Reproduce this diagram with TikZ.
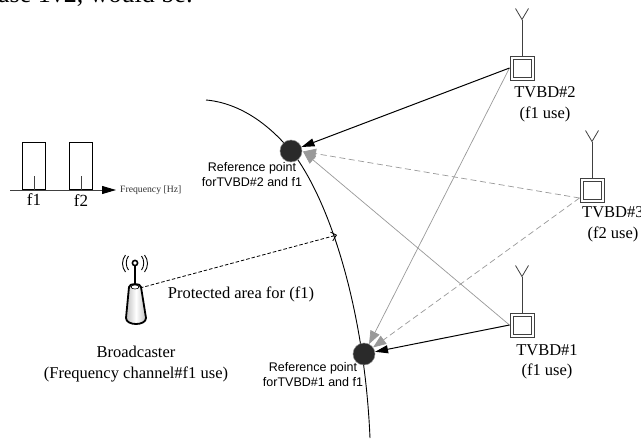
\documentclass[tikz,border=0pt]{standalone}
\usepackage{fontspec}
\setmainfont{Liberation Serif}
\newfontfamily\gothic{Liberation Sans}
\usetikzlibrary{arrows.meta}
\definecolor{dotc}{HTML}{2A2A2A}
\definecolor{gr}{HTML}{999999}
\tikzset{
  lbl/.style={inner sep=0pt,font=\fontsize{16.5}{18}\selectfont,anchor=base},
  reflbl/.style={inner sep=0pt,font=\gothic\fontsize{12.5}{15.5}\selectfont,align=center,anchor=north},
  dev/.style={draw=black!75,line width=1pt,fill=white,minimum size=24pt,inner sep=0pt,
    path picture={\draw[black!75,line width=1pt] ([xshift=3pt,yshift=3pt]path picture bounding box.south west) rectangle ([xshift=-3pt,yshift=-3pt]path picture bounding box.north east);}},
  ant/.style={draw=black!75,line width=1pt},
  refdot/.style={circle,fill=dotc,draw=black!45,line width=.5pt,minimum size=22pt,inner sep=0pt},
  blk/.style={draw=black,line width=1pt,-{Triangle[length=13pt,width=8pt]}},
  gsolid/.style={draw=gr,line width=.7pt,-{Triangle[length=13pt,width=10pt,color=gr]}},
  gdash/.style={gsolid,dash pattern=on 6pt off 3.5pt},
  spec/.style={draw=black,line width=.9pt,fill=white,minimum width=23pt,minimum height=47pt,inner sep=0pt,anchor=south},
}
\begin{document}
\begin{tikzpicture}[x=1pt,y=-1pt]
\useasboundingbox (0,0) rectangle (641,439);
\fill[white] (0,0) rectangle (641,439);
\begin{scope}
\clip (0,0) rectangle (641,439);
\node[inner sep=0pt,anchor=base west,font=\fontsize{26}{28}\selectfont] (top) at (-2,2) {ase 1v2, would be:};
\node[lbl,anchor=base west] (t3) at (582,217) {TVBD\#3};
\end{scope}
% spectrum
\coordinate (axl) at (10,190);
\coordinate (axr) at (116,190);
\node[spec] (r1) at (34,190) {};
\node[spec] (r2) at (81,190) {};
\draw[black!75,line width=.9pt] (r1.south) -- ++(0,-14);
\draw[black!75,line width=.9pt] (r2.south) -- ++(0,-14);
\draw[draw=black!75,line width=.9pt,-{Triangle[length=14pt,width=8pt,color=black]}] (axl) -- (axr);
\node[lbl,font=\fontsize{17}{18}\selectfont] (f1) at (34,205) {f1};
\node[lbl,font=\fontsize{17}{18}\selectfont] (f2) at (81,206) {f2};
\node[inner sep=0pt,anchor=west,font=\fontsize{9.7}{11}\selectfont,text=black!80] (fq) at (120,190) {Frequency [Hz]};
% boundary curve
\draw[black,line width=.9pt] (206,100) .. controls (240,103) and (272,125) .. (298,160) .. controls (335,215) and (365,320) .. (370,438);
% devices
\node[dev] (b2) at (522,68) {};
\node[dev] (b3) at (592,190) {};
\node[dev] (b1) at (522,325) {};
\foreach \b/\n in {b2/a2,b3/a3,b1/a1}{
  \coordinate (\n) at ([yshift=36pt]\b.north);
  \draw[ant] (\b.north) -- (\n);
  \draw[ant,line width=.8pt] ([shift={(-6.5pt,11pt)}]\n) -- (\n) -- ([shift={(6.5pt,11pt)}]\n);
}
% reference points
\coordinate (Ag) at (303,151.5);
\node[refdot] (A) at (291,151) {};
\node[refdot] (B) at (364,354) {};
\draw[gdash] (b3.west |- 0,198) coordinate (s3) -- (Ag);
\draw[gsolid] (b1.west) -- (Ag);
\draw[gsolid] (b2.west) -- (B);
\draw[gdash] (s3) -- (B);
\draw[blk] (b2.west) -- (A);
\draw[blk] (b1.west) -- (B);
% labels
\node[reflbl] (la) at (252,162) {Reference point\\forTVBD\#2 and f1};
\node[reflbl] (lb) at (313,362) {Reference point\\forTVBD\#1 and f1};
\node[lbl] (t2) at (545,97) {TVBD\#2};
\node[lbl] (u2) at (545,118) {(f1 use)};
\node[lbl] (u3) at (613,238) {(f2 use)};
\node[lbl] (t1) at (547,355) {TVBD\#1};
\node[lbl] (u1) at (547,375) {(f1 use)};
\node[lbl] (pa) at (241,298) {Protected area for (f1)};
\node[lbl] (br) at (136,357) {Broadcaster};
\node[lbl] (fc) at (136,378) {(Frequency channel\#f1 use)};
% tower
\coordinate (tw) at (135,287);
\coordinate (tip) at (135,263);
\coordinate (pt) at (337,235);
\draw[line width=1.8pt,join=round,left color=black!25,right color=black!25,middle color=white]
  (129,287) -- (126,318) .. controls (126,326) and (146,326) .. (146,318) -- (141,287) .. controls (141,283) and (129,283) .. (129,287) -- cycle;
\draw[line width=.6pt,fill=white] (tw) ellipse (4pt and 2pt);
\draw[line width=1.8pt] (135,284) -- (tip);
\draw[line width=1.6pt,fill=white] (tip) circle (2.6pt);
\foreach \s in {1,-1}{
  \draw[line width=.9pt] (135+\s*6.5,256) .. controls (135+\s*9.5,260) and (135+\s*9.5,266) .. (135+\s*6.5,270);
  \draw[line width=.9pt] (135+\s*9.5,255) .. controls (135+\s*13.5,260) and (135+\s*13.5,267) .. (135+\s*9.5,272);
}
\draw[black,line width=.8pt,dash pattern=on 3.5pt off 2pt,-{Straight Barb[length=5pt,width=9pt]}] (tw.center) ++(5,1) -- (pt);
\end{tikzpicture}
\end{document}
